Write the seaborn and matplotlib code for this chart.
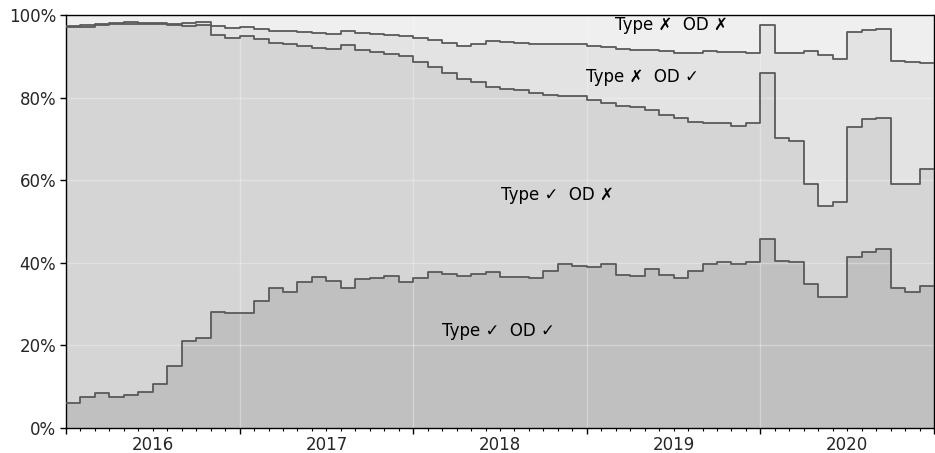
import numpy as np
import matplotlib
matplotlib.use("Agg")
import matplotlib.pyplot as plt
import seaborn as sns

# Monthly shares (in %), Jan 2016 .. Dec 2020, read as cumulative boundaries
# Share with correct type and correct OD
share_type_ok_od_ok = [
    6.0, 7.6, 8.5, 7.4, 8.0, 8.6, 10.7, 15.1, 21.1, 21.9, 28.0, 27.8,
    27.9, 30.7, 34.0, 33.0, 35.4, 36.6, 35.7, 33.9, 36.0, 36.4, 36.8, 35.4,
    36.4, 37.8, 37.4, 36.9, 37.2, 37.7, 36.5, 36.6, 36.3, 37.9, 39.7, 39.3,
    39.1, 39.8, 37.0, 36.8, 38.6, 37.0, 36.2, 38.0, 39.6, 40.1, 39.8, 40.3,
    45.8, 40.4, 40.2, 34.8, 31.8, 31.7, 41.5, 42.5, 43.3, 33.8, 32.9, 34.4,
]
# Share with correct type (OD correct or not)
share_type_ok = [
    97.0, 97.2, 97.5, 97.7, 97.9, 97.7, 97.7, 97.5, 97.4, 97.6, 95.2, 94.4,
    94.8, 94.2, 93.3, 92.9, 92.4, 92.1, 91.8, 92.7, 91.5, 91.1, 90.6, 90.1,
    88.7, 87.5, 86.0, 84.4, 83.8, 82.6, 82.0, 81.8, 81.0, 80.6, 80.4, 80.4,
    79.4, 78.8, 78.0, 77.8, 77.0, 75.8, 75.0, 74.0, 73.9, 73.8, 73.2, 73.9,
    85.9, 70.1, 69.6, 59.1, 53.7, 54.8, 73.0, 74.8, 75.1, 59.0, 59.2, 62.7,
]
# Share where at least one of type / OD is correct
share_any_ok = [
    97.3, 97.5, 97.8, 98.0, 98.2, 98.0, 98.0, 97.9, 98.0, 98.2, 97.4, 96.9,
    97.0, 96.6, 96.2, 96.05, 95.9, 95.6, 95.5, 96.1, 95.7, 95.5, 95.2, 94.9,
    94.4, 93.9, 93.1, 92.5, 92.9, 93.7, 93.5, 93.2, 93.0, 93.0, 93.0, 92.9,
    92.4, 92.2, 91.8, 91.6, 91.5, 91.2, 90.7, 90.9, 91.2, 91.1, 91.0, 90.9,
    97.6, 90.8, 90.7, 91.2, 90.3, 89.3, 96.0, 96.3, 96.5, 88.8, 88.5, 88.3,
]

years = [2016, 2017, 2018, 2019, 2020]
year_labels = ["2016", "2017", "2018", "2019", "2020"]
band_labels = ["Type ✓  OD ✓", "Type ✓  OD ✗", "Type ✗  OD ✓", "Type ✗  OD ✗"]
band_colors = ["#c0c0c0", "#d5d5d5", "#e3e3e3", "#efefef"]
label_pos = [(2018.49, 23.5), (2018.83, 56.4), (2019.32, 85.0), (2019.49, 97.6)]

sns.set_theme(style="ticks")
plt.rcParams["font.family"] = ["DejaVu Sans"]

n = len(share_type_ok_od_ok)
x = 2016 + np.arange(n + 1) / 12.0


def ext(v):
    v = np.asarray(v, dtype=float)
    return np.append(v, v[-1])


bounds = [np.zeros(n + 1), ext(share_type_ok_od_ok), ext(share_type_ok),
          ext(share_any_ok), np.full(n + 1, 100.0)]

fig = plt.figure(figsize=(9.35, 4.53), dpi=100)
ax = fig.add_axes([66 / 935, 1 - 428 / 453, 868 / 935, 413 / 453])

for i in range(4):
    ax.fill_between(x, bounds[i], bounds[i + 1], step="post",
                    color=band_colors[i], linewidth=0, zorder=1)

for b in bounds[1:4]:
    sns.lineplot(x=x, y=b, drawstyle="steps-post", color="#5a5a5a",
                 linewidth=1.3, ax=ax, zorder=3)

# light grid over the filled bands
for yv in [20, 40, 60, 80]:
    ax.axhline(yv, color="white", alpha=0.3, linewidth=1, zorder=2)
for xv in years[1:]:
    ax.axvline(xv, color="white", alpha=0.3, linewidth=1, zorder=2)

for (tx, ty), lab in zip(label_pos, band_labels):
    ax.text(tx, ty, lab, ha="center", va="center", fontsize=12, color="black", zorder=4)

ax.set_xlim(2016, 2021)
ax.set_ylim(0, 100)
ax.set_xticks(years + [2021])
ax.set_xticklabels([])
ax.set_xticks(x, minor=True)
ax.tick_params(axis="x", which="major", length=4.5, width=1, color="black")
ax.tick_params(axis="x", which="minor", length=2.4, width=0.8, color="black")
ax.set_yticks([0, 20, 40, 60, 80, 100])
ax.set_yticklabels(["0%", "20%", "40%", "60%", "80%", "100%"])
ax.tick_params(axis="y", length=4.5, width=1, color="black", pad=2.5, labelsize=12)
ax.set_xlabel("")
ax.set_ylabel("")
for s in ax.spines.values():
    s.set_visible(True)
    s.set_color("black")
    s.set_linewidth(1)

sec = ax.secondary_xaxis("bottom")
sec.set_xticks([yv + 0.5 for yv in years])
sec.set_xticklabels(year_labels)
sec.tick_params(length=0, pad=6, labelsize=12)
sec.spines["bottom"].set_visible(False)

fig.savefig("out.png", dpi=100)
